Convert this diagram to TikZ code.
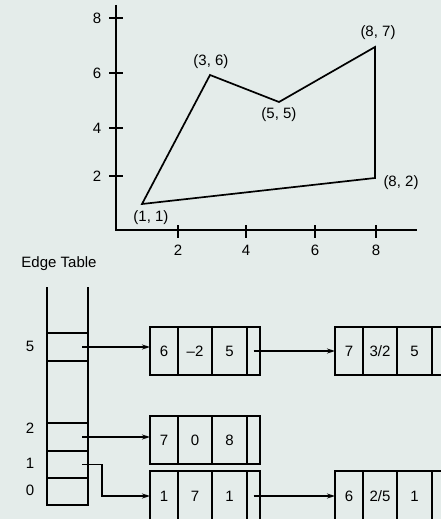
\documentclass[tikz,border=0pt]{standalone}
\usepackage{fontspec}
\setmainfont{Liberation Sans}
\usetikzlibrary{arrows.meta,positioning}
\definecolor{paper}{RGB}{228,236,234}

\begin{document}
\begin{tikzpicture}[x=1pt, y=-1pt, line width=1.7pt, >={Stealth[length=8pt,width=5pt]},
    font=\fontsize{15pt}{17pt}\selectfont,
    cell/.style={draw, inner sep=0pt, outer sep=0pt},
    lbl/.style={inner sep=0pt}]
  \useasboundingbox (0,0) rectangle (441,519);
  \clip (0,0) rectangle (441,519);
  \fill[paper] (0,0) rectangle (441,519);
  % axes
  \draw (116,5) -- (116,230) -- (417,230);
  \foreach \v/\y in {2/176, 4/128, 6/73, 8/18} {
    \draw (109,\y) -- (123,\y);
    \node[lbl] (yl\v) at (97,\y) {\v};
  }
  \foreach \v/\x in {2/178, 4/246, 6/315, 8/376} {
    \draw (\x,225) -- (\x,238);
    \node[lbl] (xl\v) at (\x,250) {\v};
  }
  % polygon
  \coordinate (v1) at (142,204);
  \coordinate (v2) at (210,75);
  \coordinate (v3) at (279,102);
  \coordinate (v4) at (375,47);
  \coordinate (v5) at (375,178);
  \draw (v1) -- (v2) -- (v3) -- (v4) -- (v5) -- cycle;
  \node[lbl] (p1) at (151,218) {(1, 1)};
  \node[lbl] (p2) at (211,62) {(3, 6)};
  \node[lbl] (p3) at (279,115) {(5, 5)};
  \node[lbl] (p4) at (378,33) {(8, 7)};
  \node[lbl] (p5) at (401,183) {(8, 2)};
  % edge table
  \node[lbl] (title) at (59,264) {Edge Table};
  \node[cell, minimum width=41pt, minimum height=28pt] (b5) at (67.5,347) {};
  \node[cell, minimum width=41pt, minimum height=28pt] (b2) at (67.5,437) {};
  \node[cell, minimum width=41pt, minimum height=27pt, below=0pt of b2] (b1) {};
  \node[cell, minimum width=41pt, minimum height=27pt, below=0pt of b1] (b0) {};
  \draw (47,287) -- (b0.south west);
  \draw (88,287) -- (b0.south east);
  \foreach \v/\y in {5/346, 2/428, 1/463, 0/490}
    \node[lbl] (bl\v) at (30,\y) {\v};
  % edge records
  \newcommand{\edgerec}[6]{% name, placement, height, entries
    \node[cell, minimum width=28pt, minimum height=#3, #2] (#1a) {#4};
    \node[cell, minimum width=34pt, minimum height=#3, right=0pt of #1a] (#1b) {#5};
    \node[cell, minimum width=35pt, minimum height=#3, right=0pt of #1b] (#1c) {#6};
    \node[cell, minimum width=13pt, minimum height=#3, right=0pt of #1c] (#1d) {};}
  \edgerec{e5}{anchor=west, at={(150,351)}}{48pt}{6}{\textendash2}{5}
  \edgerec{f5}{right=75pt of e5d}{48pt}{7}{3/2}{5}
  \edgerec{e2}{anchor=west, at={(150,440)}}{48pt}{7}{0}{8}
  \edgerec{e1}{anchor=west, at={(150,496)}}{50pt}{1}{7}{1}
  \edgerec{f1}{right=75pt of e1d}{50pt}{6}{2/5}{1}
  % pointers
  \draw[->] ([xshift=-6pt]b5.east) -- (b5.east -| e5a.west);
  \draw[->] (e5d.center) -- (f5a.west);
  \draw[->] ([xshift=-6pt]b2.east) -- (b2.east -| e2a.west);
  \draw[->] ([xshift=-6pt]b1.east) -- ++(20,0) |- (e1a.west);
  \draw[->] (e1d.center) -- (f1a.west);
\end{tikzpicture}
\end{document}
